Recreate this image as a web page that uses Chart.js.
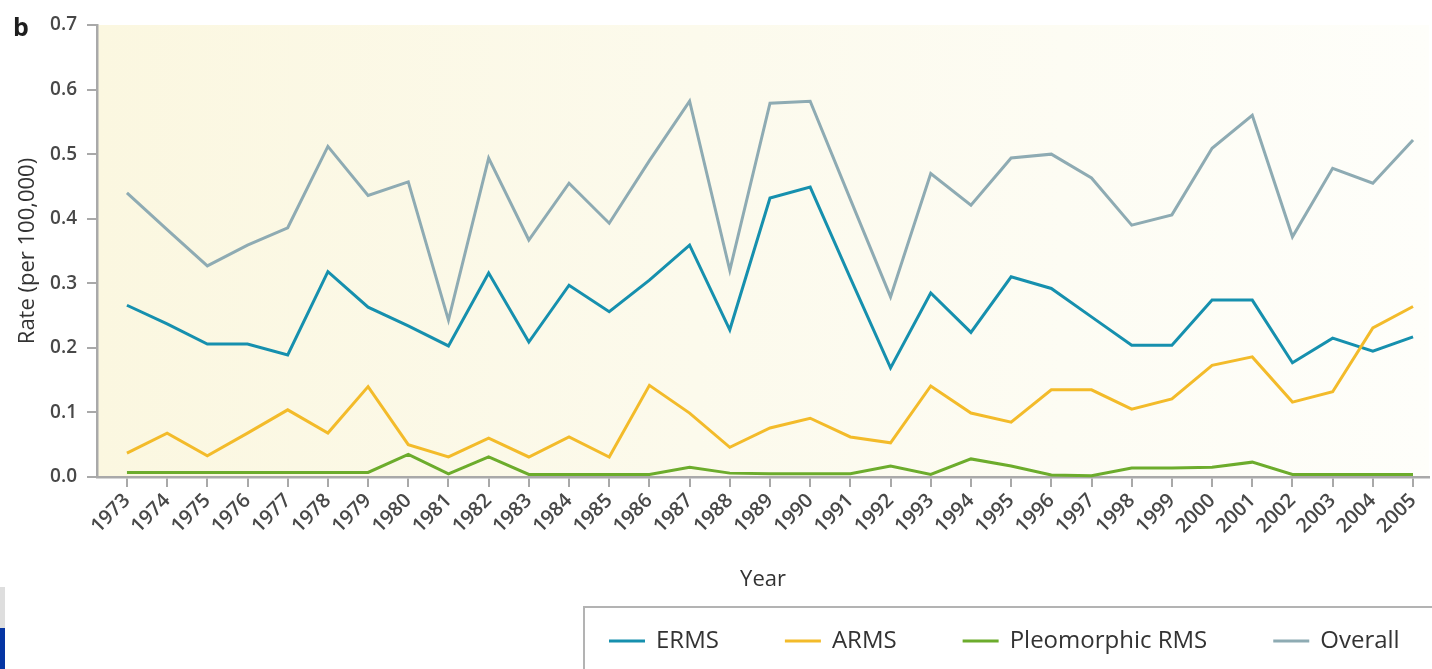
<!DOCTYPE html>
<html>
<head>
<meta charset="utf-8">
<script src="https://cdn.jsdelivr.net/npm/chart.js@4.4.0/dist/chart.umd.min.js"></script>
<style>
  html, body { margin: 0; padding: 0; background: #ffffff; overflow: hidden; }
  #wrap { position: relative; width: 1432px; height: 669px; }
  canvas { display: block; }
  .edge { position: absolute; left: 0; width: 5px; }
</style>
</head>
<body>
<div id="wrap">
  <canvas id="chart" width="1432" height="669"></canvas>
  <div class="edge" style="top:587px;height:41px;background:#dedede"></div>
  <div class="edge" style="top:628px;height:41px;background:#0535a3"></div>
</div>
<script>
// Incidence of rhabdomyosarcoma subtypes by year
const years = [1973, 1974, 1975, 1976, 1977, 1978, 1979, 1980, 1981, 1982, 1983,
               1984, 1985, 1986, 1987, 1988, 1989, 1990, 1991, 1992, 1993, 1994,
               1995, 1996, 1997, 1998, 1999, 2000, 2001, 2002, 2003, 2004, 2005];

const ermsRate = [0.266, 0.237, 0.206, 0.206, 0.189, 0.318, 0.263, 0.234, 0.203, 0.316, 0.209,
                  0.297, 0.256, 0.305, 0.359, 0.228, 0.432, 0.449, 0.308, 0.169, 0.285, 0.224,
                  0.310, 0.292, 0.248, 0.204, 0.204, 0.274, 0.274, 0.177, 0.215, 0.195, 0.217];

const armsRate = [0.037, 0.068, 0.033, 0.068, 0.104, 0.068, 0.140, 0.050, 0.031, 0.060, 0.031,
                  0.062, 0.031, 0.142, 0.099, 0.046, 0.076, 0.091, 0.062, 0.053, 0.141, 0.099,
                  0.085, 0.135, 0.135, 0.105, 0.121, 0.173, 0.186, 0.116, 0.132, 0.231, 0.264];

const pleoRate = [0.007, 0.007, 0.007, 0.007, 0.007, 0.007, 0.007, 0.035, 0.005, 0.031, 0.004,
                  0.004, 0.004, 0.004, 0.015, 0.006, 0.005, 0.005, 0.005, 0.017, 0.004, 0.028,
                  0.017, 0.003, 0.002, 0.014, 0.014, 0.015, 0.023, 0.004, 0.004, 0.004, 0.004];

const overallRate = [0.440, 0.383, 0.327, 0.359, 0.386, 0.512, 0.436, 0.457, 0.243, 0.494, 0.367,
                     0.455, 0.393, 0.490, 0.582, 0.320, 0.579, 0.582, 0.430, 0.279, 0.470, 0.421,
                     0.494, 0.500, 0.463, 0.390, 0.406, 0.509, 0.560, 0.372, 0.478, 0.455, 0.522];

const yTicks = [0, 0.1, 0.2, 0.3, 0.4, 0.5, 0.6, 0.7];

const seriesNames = ['ERMS', 'ARMS', 'Pleomorphic RMS', 'Overall'];
const seriesColors = ['#1690ae', '#f3bb2a', '#6cac2c', '#8eabb3'];

const FONT = '"Open Sans", "Noto Sans", sans-serif';
const AXIS_GREY = '#a9a9a9';
const TEXT_GREY = '#484848';

const toPoints = (vals) => vals.map((v, i) => ({ x: years[i], y: v }));

// Warm cream wash behind the plotting area
const plotBackground = {
  id: 'plotBackground',
  beforeDraw(chart) {
    const { ctx, chartArea: { left, top, right, bottom } } = chart;
    const g = ctx.createLinearGradient(left, 0, right, 0);
    g.addColorStop(0, '#fbf7e0');
    g.addColorStop(0.45, '#fcfaec');
    g.addColorStop(1, '#fefefa');
    ctx.save();
    ctx.fillStyle = g;
    ctx.fillRect(left, top, right - left, bottom - top);
    ctx.restore();
  }
};

// Panel letter in the top-left corner
const panelLetter = {
  id: 'panelLetter',
  afterDraw(chart) {
    const ctx = chart.ctx;
    ctx.save();
    ctx.font = 'bold 25px ' + FONT;
    ctx.fillStyle = '#1e1e1e';
    ctx.textBaseline = 'alphabetic';
    ctx.fillText('b', 13, 36);
    ctx.restore();
  }
};

// Boxed legend along the bottom right
const boxedLegend = {
  id: 'boxedLegend',
  afterDraw(chart) {
    const ctx = chart.ctx;
    ctx.save();
    ctx.strokeStyle = '#b3b3b3';
    ctx.lineWidth = 2;
    ctx.strokeRect(584, 607, 900, 120);
    ctx.font = '500 24px ' + FONT;
    ctx.textBaseline = 'middle';
    const cy = 641;
    let x = 609;
    chart.data.datasets.forEach((ds) => {
      ctx.strokeStyle = ds.borderColor;
      ctx.lineWidth = 3;
      ctx.beginPath();
      ctx.moveTo(x, cy);
      ctx.lineTo(x + 36, cy);
      ctx.stroke();
      ctx.fillStyle = '#333333';
      ctx.fillText(ds.label, x + 47, cy);
      x += 47 + ctx.measureText(ds.label).width + 66;
    });
    ctx.restore();
  }
};

const rates = [ermsRate, armsRate, pleoRate, overallRate];
const drawOrder = [1, 0, 2, 3];

new Chart(document.getElementById('chart'), {
  type: 'line',
  data: {
    datasets: rates.map((vals, i) => ({
      label: seriesNames[i],
      data: toPoints(vals),
      borderColor: seriesColors[i],
      backgroundColor: seriesColors[i],
      borderWidth: 3,
      pointRadius: 0,
      tension: 0,
      fill: false,
      order: drawOrder[i],
      clip: false
    }))
  },
  options: {
    responsive: false,
    animation: false,
    devicePixelRatio: 1,
    layout: { padding: { top: 25, right: 0, bottom: 0, left: 0 } },
    plugins: {
      legend: { display: false },
      tooltip: { enabled: false }
    },
    scales: {
      x: {
        type: 'linear',
        min: 1972.255,
        max: 2005.4,
        afterFit(scale) { scale.height = 192; },
        afterBuildTicks(scale) { scale.ticks = years.map((v) => ({ value: v })); },
        grid: {
          display: true,
          drawOnChartArea: false,
          drawTicks: true,
          tickLength: 10,
          color: AXIS_GREY,
          lineWidth: 2
        },
        border: { display: true, color: AXIS_GREY, width: 2.5 },
        ticks: {
          autoSkip: false,
          maxRotation: 45,
          minRotation: 45,
          padding: 2,
          color: TEXT_GREY,
          font: { family: FONT, size: 20, weight: '600' },
          callback: (v) => String(v)
        },
        title: {
          display: true,
          text: 'Year',
          color: '#333333',
          font: { family: FONT, size: 22, weight: '500' },
          padding: { top: 0, bottom: 76 }
        }
      },
      y: {
        min: 0,
        max: 0.7,
        afterFit(scale) { scale.width = 97; },
        afterBuildTicks(scale) { scale.ticks = yTicks.map((v) => ({ value: v })); },
        grid: {
          display: true,
          drawOnChartArea: false,
          drawTicks: true,
          tickLength: 10,
          color: AXIS_GREY,
          lineWidth: 2
        },
        border: { display: true, color: AXIS_GREY, width: 2.5 },
        ticks: {
          padding: 10,
          color: TEXT_GREY,
          font: { family: FONT, size: 19, weight: '600' },
          callback: (v) => Number(v).toFixed(1)
        },
        title: {
          display: true,
          text: 'Rate (per 100,000)',
          color: '#333333',
          font: { family: FONT, size: 22, weight: '500' },
          padding: { top: 15, bottom: 0 }
        }
      }
    }
  },
  plugins: [plotBackground, panelLetter, boxedLegend]
});
</script>
</body>
</html>
